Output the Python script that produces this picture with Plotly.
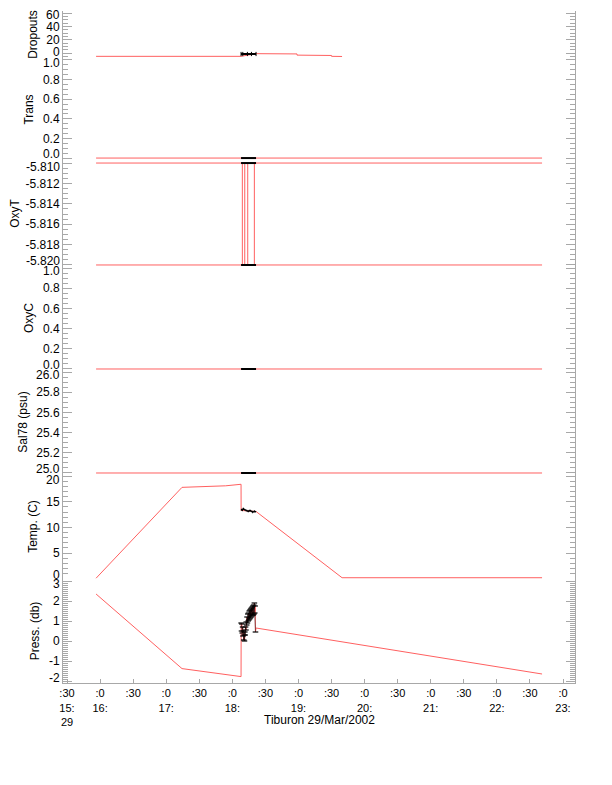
import plotly.graph_objects as go
import pandas as pd

DAY = "2002-03-29 "
AXIS_GREY = "#a8a8a8"
RED = "#ff6060"
FONT = "Liberation Sans, Arial, sans-serif"

# ---- data (times are HH:MM:SS on 29 Mar 2002) ----
drop_times = ["15:56:22", "18:07:54", "18:21:30", "18:58:40", "18:58:41", "19:30:00", "19:30:01", "19:39:33"]
drop_vals = [-5.0, -5.0, -1.0, -1.4, -3.2, -3.7, -5.0, -5.2]
drop_burst_times = ["18:07:54", "18:09:30", "18:13:40", "18:17:20", "18:21:30"]
drop_burst_vals = [-1.5, -1.5, -1.5, -1.5, -1.5]

trans_times = ["15:56:22", "22:41:00"]
trans_vals = [0.0, 0.0]

oxyt_times = ["15:56:22", "18:09:04", "18:09:05", "18:11:15", "18:11:16", "18:13:58", "18:13:59",
              "18:19:58", "18:19:59", "22:41:00"]
oxyt_vals = [-5.810, -5.810, -5.820, -5.820, -5.810, -5.810, -5.820, -5.820, -5.810, -5.810]
oxyt_low_times = ["15:56:22", "22:41:00"]
oxyt_low_vals = [-5.820, -5.820]

oxyc_times = ["15:56:22", "22:41:00"]
oxyc_vals = [0.0, 0.0]

sal_times = ["15:56:22", "22:41:00"]
sal_vals = [25.0, 25.0]

burst_times = ["18:07:54", "18:21:30"]

temp_times = ["15:56:22", "17:14:20", "17:54:00", "18:07:54", "18:07:58", "18:21:30", "19:39:33", "22:41:00"]
temp_vals = [0.1, 17.8, 18.1, 18.4, 13.3, 13.1, 0.2, 0.2]
temp_burst_vals = [13.3, 13.6, 13.2, 13.5, 13.8, 13.4, 13.6, 13.3, 13.5, 13.2, 13.4, 13.1, 13.3, 13.0,
                   13.2, 13.4, 13.1, 13.3, 13.2, 13.0, 13.2, 12.9, 13.1, 13.0, 13.2, 13.0, 13.1, 13.0]

press_pre_times = ["15:56:22", "17:14:20", "18:07:54"]
press_pre_vals = [2.35, -1.38, -1.78]
press_burst_vals = [0.9, 0.5, 0.85, 0.4, 0.7, 0.25, 0.5, 0.05, 0.3, 0.0,
                    0.45, 0.3, 0.7, 0.55, 0.95, 0.8, 1.2, 0.9, 1.35, 1.0,
                    1.4, 1.05, 1.5, 1.1, 1.55, 1.15, 1.6, 1.2, 1.65, 1.25,
                    1.7, 1.3, 1.75, 1.3, 1.8, 1.35, 1.9, 1.4, 1.75, 0.45]
press_post_times = ["18:21:30", "22:41:00"]
press_post_vals = [0.65, -1.65]

x_tick_times = ["15:30", "16:00", "16:30", "17:00", "17:30", "18:00", "18:30", "19:00",
                "19:30", "20:00", "20:30", "21:00", "21:30", "22:00", "22:30", "23:00"]
x_tick_text = [":30<br>15:<br>29", ":0<br>16:", ":30", ":0<br>17:", ":30", ":0<br>18:", ":30", ":0<br>19:",
               ":30", ":0<br>20:", ":30", ":0<br>21:", ":30", ":0<br>22:", ":30", ":0<br>23:"]


def ts(times):
    return pd.to_datetime([DAY + t for t in times])


temp_burst_t = pd.date_range(DAY + "18:08:00", periods=len(temp_burst_vals), freq="30s")
press_burst_t = pd.date_range(DAY + "18:08:00", periods=len(press_burst_vals), freq="20s")

# panel layout: title, range, tick values, tick labels, minor step, end-label nudges (px)
panels = [
    ("Dropouts", [-7.5, 63], [0, 20, 40, 60], ["0", "20", "40", "60"], 5, (1, -2)),
    ("Trans", [-0.03, 1.02], [0, 0.2, 0.4, 0.6, 0.8, 1.0], ["0.0", "0.2", "0.4", "0.6", "0.8", "1.0"], 0.05, (4, -3)),
    ("OxyT", [-5.8201, -5.8098], [-5.820, -5.818, -5.816, -5.814, -5.812, -5.810],
     ["-5.820", "-5.818", "-5.816", "-5.814", "-5.812", "-5.810"], 0.0005, (4, -4)),
    ("OxyC", [-0.01, 1.02], [0, 0.2, 0.4, 0.6, 0.8, 1.0], ["0.0", "0.2", "0.4", "0.6", "0.8", "1.0"], 0.05, (4, -3)),
    ("Sal78 (psu)", [24.99, 26.02], [25.0, 25.2, 25.4, 25.6, 25.8, 26.0],
     ["25.0", "25.2", "25.4", "25.6", "25.8", "26.0"], 0.05, (4, -3)),
    ("Temp. (C)", [-0.05, 20.4], [0, 5, 10, 15, 20], ["0", "5", "10", "15", "20"], 1, (4, -4)),
    ("Press. (db)", [-2.1, 3.1], [-2, -1, 0, 1, 2, 3], ["-2", "-1", "0", "1", "2", "3"], 0.1, (3, -3)),
]
# the page puts the figure 8 px in from the top-left corner, so work in page pixels minus 8
PAGE_OFF = 8
bounds_px = [y - PAGE_OFF for y in [11, 58, 161, 266, 370, 474, 579, 683]]
left_px, right_px = 63 - PAGE_OFF, 575 - PAGE_OFF
top_px, bottom_px = bounds_px[0], bounds_px[-1]
span = bottom_px - top_px
W, H = 612, 785

fig = go.Figure()


def red(x, y, row, width=1):
    fig.add_trace(go.Scatter(x=x, y=y, mode="lines", line=dict(color=RED, width=width),
                             xaxis="x", yaxis=f"y{row}", hoverinfo="skip"))


def black(x, y, row, width=2, **kw):
    fig.add_trace(go.Scatter(x=x, y=y, line=dict(color="black", width=width),
                             xaxis="x", yaxis=f"y{row}", hoverinfo="skip", **kw))


# Dropouts
red(ts(drop_times), drop_vals, 1)
black(ts(drop_burst_times), drop_burst_vals, 1, mode="lines+markers",
      marker=dict(symbol="line-ns-open", size=3, line=dict(color="black", width=1)))
# Trans
red(ts(trans_times), trans_vals, 2)
black(ts(burst_times), [0.0, 0.0], 2, mode="lines")
# OxyT
red(ts(oxyt_low_times), oxyt_low_vals, 3)
red(ts(oxyt_times), oxyt_vals, 3)
black(ts(burst_times), [-5.810, -5.810], 3, mode="lines")
black(ts(burst_times), [-5.820, -5.820], 3, mode="lines")
# OxyC
red(ts(oxyc_times), oxyc_vals, 4)
black(ts(burst_times), [0.0, 0.0], 4, mode="lines")
# Sal78
red(ts(sal_times), sal_vals, 5)
black(ts(burst_times), [25.0, 25.0], 5, mode="lines")
# Temp
red(ts(temp_times), temp_vals, 6)
black(temp_burst_t, temp_burst_vals, 6, width=1.2, mode="lines")
# Press
press_red_t = list(ts(press_pre_times)) + list(press_burst_t) + list(ts(press_post_times))
press_red_v = press_pre_vals + press_burst_vals + press_post_vals
red(press_red_t, press_red_v, 7)
black(press_burst_t, press_burst_vals, 7, width=0.5, mode="lines+markers",
      marker=dict(symbol="line-ew-open", size=4, line=dict(color="black", width=1.2)))

layout = dict(
    width=W, height=H,
    paper_bgcolor="white", plot_bgcolor="white",
    margin=dict(l=left_px, r=W - right_px, t=top_px, b=H - bottom_px, pad=0),
    showlegend=False,
    font=dict(family=FONT, size=12, color="black"),
    xaxis=dict(
        anchor="y7", domain=[0, 1], type="date", automargin=False,
        range=[DAY + "15:26:22", DAY + "23:10:53"],
        tickmode="array", tickvals=ts(x_tick_times), ticktext=x_tick_text,
        ticks="inside", ticklen=4, tickcolor=AXIS_GREY,
        showline=True, linecolor=AXIS_GREY, linewidth=1, showgrid=False, zeroline=False,
        tickfont=dict(size=11),
    ),
)
for i, (title, rng, tv, tt, minor, nudge) in enumerate(panels, start=1):
    d0 = (bottom_px - bounds_px[i]) / span
    d1 = (bottom_px - bounds_px[i - 1]) / span
    # end labels are drawn as annotations nudged inward, as in the original
    inner_text = [""] + tt[1:-1] + [""]
    layout[f"yaxis{i}"] = dict(
        anchor="x", domain=[max(d0, 0), min(d1, 1)], range=rng, automargin=False,
        title=dict(text=title, font=dict(size=12), standoff=6),
        tickmode="array", tickvals=tv, ticktext=inner_text,
        ticks="inside", ticklen=9, tickcolor=AXIS_GREY, tickwidth=1,
        minor=dict(tick0=tv[0], dtick=minor, ticks="inside", ticklen=5, tickcolor=AXIS_GREY),
        showline=True, linecolor=AXIS_GREY, linewidth=1, mirror="ticks",
        showgrid=False, zeroline=False, tickfont=dict(size=12),
    )
    for val, txt, shift in ((tv[0], tt[0], nudge[0]), (tv[-1], tt[-1], nudge[1])):
        fig.add_annotation(text=txt, xref="paper", yref=f"y{i}", x=0, y=val,
                           xanchor="right", yanchor="middle", xshift=-2, yshift=shift,
                           showarrow=False, borderpad=0, font=dict(size=12, family=FONT))
fig.update_layout(**layout)

fig.add_annotation(text="Tiburon 29/Mar/2002", xref="paper", yref="paper",
                   x=0.5, y=(bottom_px - (720 - PAGE_OFF)) / span, xanchor="center", yanchor="middle",
                   showarrow=False, font=dict(size=12, family=FONT))

fig.write_html("out.html")
